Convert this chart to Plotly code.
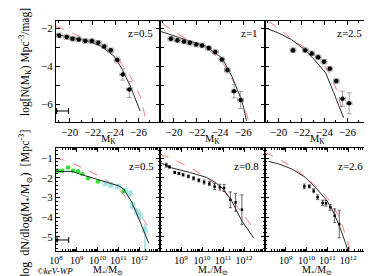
import plotly.graph_objects as go

FONT = "Liberation Serif, DejaVu Serif, serif"

# ---------------- top row : K-band luminosity functions ----------------
lf_z = ["z=0.5", "z=1", "z=2.5"]

lf1_mk = [-19.08, -19.74, -20.25, -20.79, -21.37, -21.94, -22.5, -23.02, -23.59, -24.16, -24.64, -25.22]
lf1_phi = [-2.38, -2.47, -2.56, -2.59, -2.67, -2.68, -2.77, -2.96, -3.17, -3.68, -4.44, -5.23]
lf1_err = [0.12, 0.12, 0.12, 0.12, 0.12, 0.12, 0.12, 0.12, 0.12, 0.15, 0.3, 0.42]

lf2_mk = [-19.74, -20.31, -20.88, -21.39, -21.94, -22.45, -23.02, -23.59, -24.16, -24.64, -25.22, -25.79]
lf2_phi = [-2.56, -2.63, -2.70, -2.77, -2.86, -2.91, -3.05, -3.26, -3.65, -4.21, -5.33, -5.79]
lf2_err = [0.12, 0.12, 0.12, 0.12, 0.12, 0.12, 0.12, 0.12, 0.12, 0.15, 0.35, 0.45]

lf3_mk = [-21.25, -22.33, -22.88, -23.45, -23.96, -24.47, -25.04, -25.58, -26.16]
lf3_phi = [-3.16, -3.16, -3.33, -3.53, -3.77, -4.14, -4.79, -5.72, -5.96]
lf3_err = [0.12, 0.12, 0.12, 0.12, 0.12, 0.12, 0.12, 0.4, 0.55]
lf_xerr = 0.25

# model curves (black solid, red dashed)
lf1_mod_mk = [-18.8, -21.31, -22.73, -23.87, -24.59, -25.3, -26.16]
lf1_mod_phi = [-2.33, -2.63, -2.95, -3.47, -4.16, -5.05, -6.37]
lf1_red_mk = [-18.8, -19.89, -21.31, -22.73, -24.16, -25.3, -26.16, -26.58, -26.71]
lf1_red_phi = [-1.89, -2.16, -2.56, -2.86, -3.56, -4.53, -5.58, -6.63, -6.95]

lf2_mod_mk = [-18.8, -21.31, -22.73, -24.16, -25.02, -25.73, -26.01, -26.3]
lf2_mod_phi = [-2.16, -2.68, -2.95, -3.56, -4.53, -5.58, -6.1, -6.9]
lf2_red_mk = [-19.03, -20.17, -21.31, -22.73, -24.16, -25.3, -26.01, -26.52]
lf2_red_phi = [-1.75, -2.25, -2.63, -2.98, -3.74, -4.96, -5.93, -6.98]

lf3_mod_mk = [-18.8, -19.97, -21.11, -22.25, -23.1, -24.1, -24.81, -25.39, -25.67]
lf3_mod_phi = [-1.98, -2.25, -2.6, -3.12, -3.65, -4.35, -5.4, -6.28, -6.72]
lf3_red_mk = [-19.12, -20.25, -21.39, -22.54, -23.68, -24.53, -25.1, -25.53, -25.67]
lf3_red_phi = [-1.63, -2.16, -2.68, -3.12, -3.74, -4.44, -5.32, -6.28, -6.72]

lf_sys_mk = -18.85
lf_sys_phi = -6.37
lf_sys_len = 1.05

# ---------------- bottom row : stellar mass functions ----------------
mf_z = ["z=0.5", "z=0.8", "z=2.6"]

mf1_green_logm = [8.10, 8.30, 8.58, 8.82, 9.06, 9.27, 9.54, 10.02, 11.25]
mf1_green_phi = [-1.64, -1.64, -1.48, -1.64, -1.67, -1.81, -2.02, -2.19, -2.68]
mf1_cyan_logm = [10.36, 10.64, 10.98, 11.32, 11.56, 11.68, 11.89, 12.04, 12.28]
mf1_cyan_phi = [-2.27, -2.37, -2.45, -2.65, -2.80, -3.41, -3.74, -3.94, -4.65]
mf1_cyan_up = [0.12, 0.12, 0.12, 0.12, 0.15, 0.2, 0.2, 0.25, 0.3]
mf1_cyan_dn = [0.12, 0.12, 0.12, 0.12, 0.15, 0.2, 0.2, 0.25, 1.1]
mf1_mod_logm = [8.0, 8.77, 9.41, 10.21, 11.01, 11.25, 11.65, 12.05, 12.46]
mf1_mod_phi = [-1.68, -1.68, -1.9, -2.15, -2.41, -2.57, -3.25, -4.26, -5.33]
mf1_red_logm = [8.0, 8.61, 9.41, 10.21, 11.01, 11.65, 12.13, 12.46]
mf1_red_phi = [-1.0, -1.17, -1.56, -1.98, -2.57, -3.34, -4.01, -4.52]

mf2_logm = [8.3, 8.45, 8.7, 8.9, 9.1, 9.35, 9.6, 9.85, 10.1, 10.35, 10.6, 10.85, 11.05, 11.35, 11.6, 11.9]
mf2_phi = [-1.36, -1.45, -1.73, -1.78, -1.85, -1.93, -2.03, -2.13, -2.22, -2.3, -2.45, -2.48, -2.52, -3.12, -3.25, -3.62]
mf2_err = [0.1, 0.06, 0.06, 0.06, 0.07, 0.07, 0.08, 0.08, 0.1, 0.1, 0.15, 0.15, 0.18, 0.4, 0.45, 0.75]
mf2_mod_logm = [8.0, 8.45, 9.41, 10.21, 10.69, 11.01, 11.41, 11.89, 12.46]
mf2_mod_phi = [-1.22, -1.47, -1.73, -1.98, -2.28, -2.57, -3.17, -4.18, -5.06]
mf2_red_logm = [8.0, 8.61, 9.41, 10.21, 11.01, 11.65, 12.13, 12.46]
mf2_red_phi = [-0.8, -1.05, -1.47, -1.98, -2.66, -3.42, -4.1, -4.6]

mf3_logm = [9.89, 10.13, 10.34, 10.53, 10.77, 10.93, 11.14, 11.35, 11.57]
mf3_phi = [-2.44, -2.44, -2.66, -2.99, -3.28, -3.3, -3.5, -3.93, -4.35]
mf3_err = [0.12, 0.08, 0.1, 0.12, 0.14, 0.14, 0.15, 0.35, 0.7]
mf3_mod_logm = [8.18, 8.66, 9.3, 9.94, 10.5, 10.98, 11.22, 11.54, 11.86, 11.99]
mf3_mod_phi = [-1.17, -1.3, -1.56, -1.98, -2.57, -3.17, -3.59, -4.35, -5.28, -5.7]
mf3_red_logm = [8.0, 8.66, 9.46, 10.26, 10.98, 11.54, 11.94, 12.1]
mf3_red_phi = [-0.71, -1.05, -1.56, -2.23, -2.99, -3.93, -5.11, -5.7]

mf_sys_logm = 8.05
mf_sys_logm_end = 8.61
mf_sys_phi = -5.16

mass_tick_exp = [8, 9, 10, 11, 12]

# ----------------------------------------------------------------------
BLACK_LINE = "#2a2a2a"
RED = "#ff7a7a"
GREEN = "#2ee62e"
CYAN_BOX = "rgba(130,215,220,0.55)"
CYAN_LINE = "#6cc8cc"
GREY = "#8a8a8a"

fig = go.Figure()

def ax(i):
    return ("x" if i == 1 else f"x{i}"), ("y" if i == 1 else f"y{i}")

def line(i, xs, ys, color, dash="solid", width=1.1, logx=False):
    xa, ya = ax(i)
    if logx:
        xs = [10 ** v for v in xs]
    fig.add_trace(go.Scatter(x=xs, y=ys, mode="lines", xaxis=xa, yaxis=ya,
                             line=dict(color=color, dash=dash, width=width),
                             showlegend=False, hoverinfo="skip"))

lf_sets = [
    (lf1_mk, lf1_phi, lf1_err, lf1_mod_mk, lf1_mod_phi, lf1_red_mk, lf1_red_phi),
    (lf2_mk, lf2_phi, lf2_err, lf2_mod_mk, lf2_mod_phi, lf2_red_mk, lf2_red_phi),
    (lf3_mk, lf3_phi, lf3_err, lf3_mod_mk, lf3_mod_phi, lf3_red_mk, lf3_red_phi),
]
for k, (mk, phi, err, mmk, mphi, rmk, rphi) in enumerate(lf_sets):
    i = k + 1
    xa, ya = ax(i)
    line(i, rmk, rphi, RED, dash="dash", width=1.0)
    line(i, mmk, mphi, BLACK_LINE, width=1.0)
    fig.add_trace(go.Scatter(
        x=mk, y=phi, mode="markers", xaxis=xa, yaxis=ya, showlegend=False,
        marker=dict(color="black", size=4.5),
        error_x=dict(type="constant", value=lf_xerr, color=GREY, thickness=0.8, width=2),
        error_y=dict(type="data", array=err, color=GREY, thickness=0.8, width=2.5)))

# systematic error marker (top-left panel)
fig.add_trace(go.Scatter(
    x=[lf_sys_mk], y=[lf_sys_phi], mode="markers", xaxis="x", yaxis="y", showlegend=False,
    marker=dict(color="black", size=3),
    error_x=dict(type="data", symmetric=False, array=[0], arrayminus=[lf_sys_len],
                 color="black", thickness=1, width=3)))

# bottom panel 4
line(4, mf1_red_logm, mf1_red_phi, RED, dash="dash", width=1.0, logx=True)
fig.add_trace(go.Scatter(
    x=[10 ** v for v in mf1_cyan_logm], y=mf1_cyan_phi, mode="markers", xaxis="x4", yaxis="y4",
    showlegend=False, marker=dict(symbol="square", size=6, color=CYAN_BOX),
    error_y=dict(type="data", symmetric=False, array=mf1_cyan_up, arrayminus=mf1_cyan_dn,
                 color=CYAN_LINE, thickness=1, width=0)))
fig.add_trace(go.Scatter(
    x=[10 ** v for v in mf1_green_logm], y=mf1_green_phi, mode="markers", xaxis="x4", yaxis="y4",
    showlegend=False, marker=dict(size=4.5, color=GREEN)))
line(4, mf1_mod_logm, mf1_mod_phi, BLACK_LINE, width=1.0, logx=True)
fig.add_trace(go.Scatter(
    x=[10 ** mf_sys_logm], y=[mf_sys_phi], mode="markers", xaxis="x4", yaxis="y4", showlegend=False,
    marker=dict(color="black", size=3),
    error_x=dict(type="data", symmetric=False, array=[10 ** mf_sys_logm_end - 10 ** mf_sys_logm],
                 arrayminus=[0], color="black", thickness=1, width=3)))

# bottom panels 5 and 6
for i, (lm, ph, er, mlm, mph, rlm, rph) in [
    (5, (mf2_logm, mf2_phi, mf2_err, mf2_mod_logm, mf2_mod_phi, mf2_red_logm, mf2_red_phi)),
    (6, (mf3_logm, mf3_phi, mf3_err, mf3_mod_logm, mf3_mod_phi, mf3_red_logm, mf3_red_phi)),
]:
    xa, ya = ax(i)
    line(i, rlm, rph, RED, dash="dash", width=1.0, logx=True)
    line(i, mlm, mph, BLACK_LINE, width=1.0, logx=True)
    fig.add_trace(go.Scatter(
        x=[10 ** v for v in lm], y=ph, mode="markers", xaxis=xa, yaxis=ya, showlegend=False,
        marker=dict(symbol="square", size=2.5, color="black"),
        error_y=dict(type="data", array=er, color="#222", thickness=0.7, width=1.5)))

# ---------------- axes ----------------
W, H = 372, 276
ml, mr, mt, mb = 48, 11, 13, 33
pw, ph_ = W - ml - mr, H - mt - mb
xcols = [(48, 152), (152, 257), (257, 361)]
xdom = [((a - ml) / pw, (b - ml) / pw) for a, b in xcols]
ydom_top = ((H - mb - 114) / ph_, 1.0)
ydom_bot = (0.0, (H - mb - 140) / ph_)

common = dict(showline=True, linecolor="black", linewidth=1, mirror="allticks",
              ticks="inside", tickcolor="black", ticklen=4, tickwidth=0.8,
              showgrid=False, zeroline=False,
              tickfont=dict(family=FONT, size=11, color="black"))

layout = dict(width=W, height=H, margin=dict(l=ml, r=mr, t=mt, b=mb),
              paper_bgcolor="white", plot_bgcolor="white",
              font=dict(family=FONT, size=11, color="black"), showlegend=False)

for k in range(3):
    i = k + 1
    xa = "xaxis" if i == 1 else f"xaxis{i}"
    ya = "yaxis" if i == 1 else f"yaxis{i}"
    layout[xa] = dict(common, domain=xdom[k], anchor=("y" if i == 1 else f"y{i}"),
                      range=[-18.8, -27.9], dtick=2, tick0=0,
                      minor=dict(ticks="inside", dtick=1, ticklen=2, tickcolor="black"))
    layout[ya] = dict(common, domain=ydom_top, anchor=("x" if i == 1 else f"x{i}"),
                      range=[-6.95, -1.62], dtick=2, tick0=0, showticklabels=(k == 0),
                      minor=dict(ticks="inside", dtick=1, ticklen=4, tickcolor="black"))

for k in range(3):
    i = k + 4
    xa, ya = f"xaxis{i}", f"yaxis{i}"
    exps = mass_tick_exp if k == 0 else mass_tick_exp[1:]
    layout[xa] = dict(common, domain=xdom[k], anchor=f"y{i}", type="log", range=[8, 13],
                      tickvals=[10 ** e for e in exps],
                      ticktext=[f"10<sup>{e}</sup>" for e in exps],
                      tickfont=dict(family=FONT, size=10, color="black"),
                      minor=dict(ticks="inside", dtick="D1", ticklen=2, tickcolor="black"))
    layout[ya] = dict(common, domain=ydom_bot, anchor=f"x{i}", range=[-5.72, -0.49],
                      dtick=1, tick0=0, showticklabels=(k == 0),
                      minor=dict(ticks="inside", dtick=0.2, ticklen=2, tickcolor="black"))

fig.update_layout(**layout)

# ---------------- annotations ----------------
def ann(text, x, y, size=11, angle=0, xanchor="center", yanchor="middle"):
    fig.add_annotation(text=text, x=x, y=y, xref="paper", yref="paper", showarrow=False,
                       textangle=angle, xanchor=xanchor, yanchor=yanchor,
                       font=dict(family=FONT, size=size, color="black"))

def px_x(p):
    return (p - ml) / pw

def px_y(p):
    return (H - mb - p) / ph_

for k, lab in enumerate(lf_z):
    ann(lab, px_x(xcols[k][1] - 5), px_y(25), xanchor="right")
for k, lab in enumerate(mf_z):
    ann(lab, px_x(xcols[k][1] - 4), px_y(158), xanchor="right")

for k in range(3):
    cx = (xcols[k][0] + xcols[k][1]) / 2
    ann("M<sub>K</sub>", px_x(cx), px_y(131), size=10.5)
    ann("M<sub>*</sub>/M<sub>⊙</sub>", px_x(cx), px_y(262), size=10)

ann("log[N(M<sub>K</sub>) Mpc<sup>-3</sup>/mag]", px_x(17), px_y(54), size=11.5, angle=-90)
ann("log  dN/dlog(M<sub>*</sub>/M<sub>⊙</sub>)  [Mpc<sup>-3</sup>]", px_x(17), px_y(195), size=12, angle=-90)
ann("<i>©keV-WP</i>", px_x(27), px_y(263), size=9, xanchor="left")

fig.write_html("out.html")
